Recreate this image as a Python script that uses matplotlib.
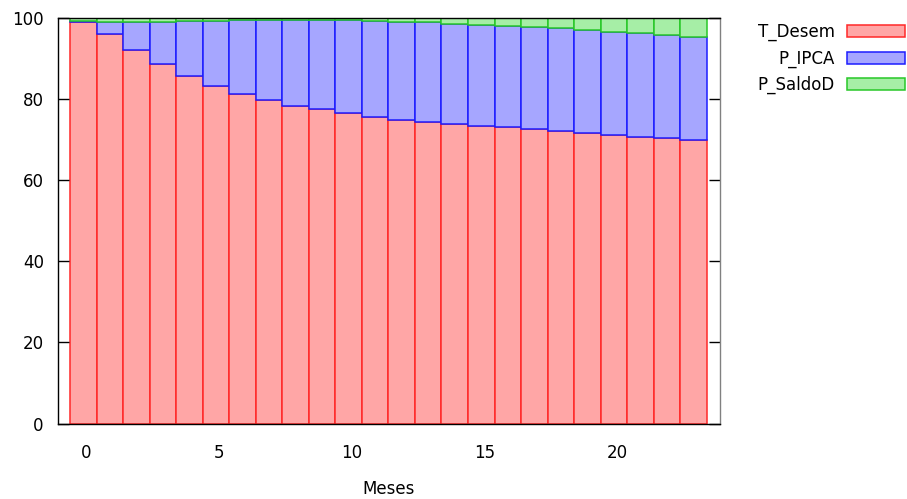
import numpy as np
import matplotlib
matplotlib.use("Agg")
import matplotlib.pyplot as plt
from matplotlib.transforms import ScaledTranslation

# participação de cada componente (%) por mês
meses = np.arange(24)
t_desem = [99.2, 96.2, 92.3, 88.7, 85.7, 83.2, 81.4, 79.8, 78.4, 77.5, 76.6, 75.7,
           75.0, 74.5, 73.9, 73.5, 73.1, 72.6, 72.1, 71.6, 71.1, 70.7, 70.5, 70.0]
p_ipca = [0.1, 2.9, 6.8, 10.4, 13.6, 16.1, 18.1, 19.7, 21.1, 22.0, 22.9, 23.6,
          24.1, 24.5, 24.8, 24.9, 25.0, 25.3, 25.5, 25.5, 25.6, 25.6, 25.4, 25.3]
p_saldod = [0.7, 0.9, 0.9, 0.9, 0.7, 0.7, 0.5, 0.5, 0.5, 0.5, 0.5, 0.7,
            0.9, 1.0, 1.3, 1.6, 1.9, 2.1, 2.4, 2.9, 3.3, 3.7, 4.1, 4.7]
series = [("T_Desem", t_desem), ("P_IPCA", p_ipca), ("P_SaldoD", p_saldod)]
xticks = [0, 5, 10, 15, 20]
yticks = [0, 20, 40, 60, 80, 100]

fills = ["#ffa6a6", "#a6a6ff", "#a6eea6"]
edges = ["#ff2828", "#1c1cff", "#28c828"]

plt.rcParams["font.family"] = "DejaVu Sans"
plt.rcParams["font.size"] = 12

fig = plt.figure(figsize=(9.07, 4.99), dpi=100)
ax = fig.add_axes([0.0636, 0.1513, 0.7302, 0.8120])

bottom = np.zeros(len(meses))
for (name, vals), fc, ec in zip(series, fills, edges):
    vals = np.array(vals)
    ax.bar(meses, vals, width=1.0, bottom=bottom, color=fc, edgecolor=ec,
           linewidth=1.1, label=name)
    bottom = bottom + vals

ax.set_xlim(-0.97, 24.0)
ax.set_ylim(0, 100)
ax.set_xticks(xticks)
ax.set_yticks(yticks)
ax.tick_params(axis="x", length=0, pad=15)
ax.tick_params(axis="y", direction="in", length=8, width=1, pad=10,
               left=True, right=True)
# rótulos do eixo x levemente deslocados para a direita
shift = ScaledTranslation(3 / 100, 0, fig.dpi_scale_trans)
for lbl in ax.get_xticklabels():
    lbl.set_transform(lbl.get_transform() + shift)
for s in ax.spines.values():
    s.set_linewidth(1)
ax.spines["right"].set_color("#808080")
ax.set_xlabel("Meses", labelpad=13)

fig.legend(loc="upper right", bbox_to_anchor=(905 / 907, 1 - 23 / 499),
           frameon=False, markerfirst=False, handlelength=3.5,
           handleheight=0.75, handletextpad=0.72, labelspacing=0.5,
           borderaxespad=0, borderpad=0)

fig.savefig("out.png", dpi=100)
